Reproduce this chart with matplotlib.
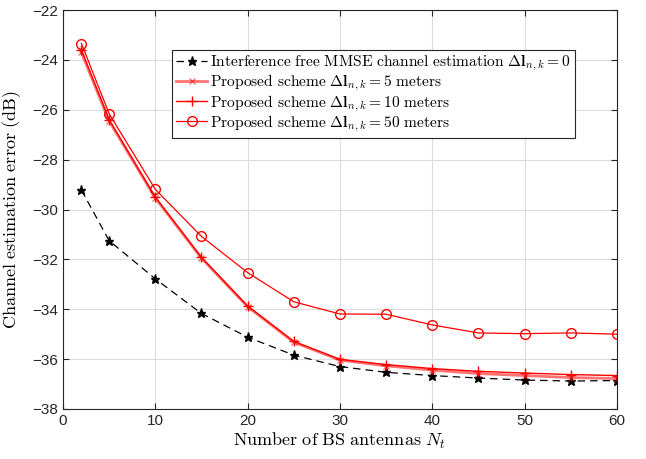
import numpy as np
import matplotlib
matplotlib.use("Agg")
import matplotlib.pyplot as plt

plt.rcParams["mathtext.fontset"] = "cm"
plt.rcParams["font.family"] = ["Liberation Sans", "DejaVu Sans"]

# Number of BS antennas
n_antennas = [2, 5, 10, 15, 20, 25, 30, 35, 40, 45, 50, 55, 60]

# Channel estimation error (dB)
mmse_free = [-29.22, -31.25, -32.78, -34.17, -35.12, -35.84, -36.30, -36.53,
             -36.66, -36.76, -36.84, -36.88, -36.86]
prop_5m = [-23.70, -26.45, -29.54, -31.95, -33.90, -35.32, -36.04, -36.27,
           -36.44, -36.58, -36.66, -36.74, -36.78]
prop_10m = [-23.60, -26.40, -29.50, -31.92, -33.87, -35.29, -36.01, -36.22,
            -36.38, -36.49, -36.56, -36.62, -36.66]
prop_50m = [-23.34, -26.16, -29.19, -31.08, -32.53, -33.70, -34.19, -34.20,
            -34.63, -34.95, -34.98, -34.95, -35.00]

fig = plt.figure(figsize=(6.46, 4.59), dpi=100)
ax = fig.add_axes([0.0975, 0.109, 0.8575, 0.869])

ax.plot(n_antennas, mmse_free, "k--*", lw=0.9, ms=6.5, dashes=(6, 4),
        label=r"$\mathrm{Interference\ free\ MMSE\ channel\ estimation\ }\mathbf{\Delta l}_{n,k}=0$")
ax.plot(n_antennas, prop_5m, color="red", marker="x", lw=2.0, ms=5, alpha=0.55,
        label=r"$\mathrm{Proposed\ scheme\ }\mathbf{\Delta l}_{n,k}=5\mathrm{\ meters}$")
ax.plot(n_antennas, prop_10m, color="red", marker="+", lw=1.0, ms=7,
        label=r"$\mathrm{Proposed\ scheme\ }\mathbf{\Delta l}_{n,k}=10\mathrm{\ meters}$")
ax.plot(n_antennas, prop_50m, color="red", marker="o", lw=0.9, ms=7,
        mfc="none", label=r"$\mathrm{Proposed\ scheme\ }\mathbf{\Delta l}_{n,k}=50\mathrm{\ meters}$")

ax.set_xlim(0, 60)
ax.set_ylim(-38, -22)
ax.set_xticks(np.arange(0, 61, 10))
ax.set_yticks(np.arange(-38, -21, 2))
ax.grid(True, color="#dcdcdc", lw=0.8)
ax.set_axisbelow(True)
ax.tick_params(direction="in", length=4, labelsize=11, colors="#262626",
               top=True, right=True)
for s in ax.spines.values():
    s.set_color("#262626")
    s.set_linewidth(0.8)

ax.set_xlabel(r"$\mathrm{Number\ of\ BS\ antennas\ }N_t$", fontsize=13, labelpad=2)
ax.set_ylabel(r"$\mathrm{Channel\ estimation\ error\ (dB)}$", fontsize=13, labelpad=0)
ax.yaxis.set_label_coords(-0.072, 0.5)

leg = ax.legend(loc="upper right", bbox_to_anchor=(0.924, 0.90), borderaxespad=0,
                fontsize=11.2, fancybox=False, edgecolor="#262626", framealpha=1,
                handlelength=2.0, handletextpad=0.2, labelspacing=0.0,
                borderpad=0.25)
leg.get_frame().set_linewidth(0.8)

fig.savefig("out.png", dpi=100)
